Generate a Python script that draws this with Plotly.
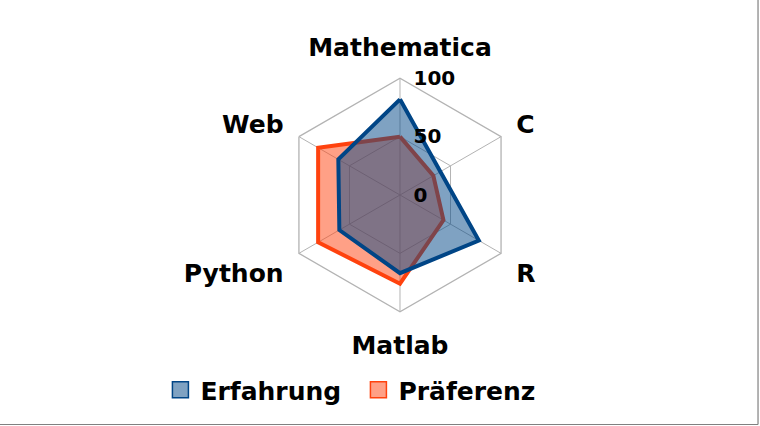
import plotly.graph_objects as go

categories = ["Mathematica", "C", "R", "Matlab", "Python", "Web"]
erfahrung = [82, 40, 78, 67, 60, 61]
praeferenz = [50, 33, 43, 76, 81, 81]
radial_ticks = [0, 50, 100]
series_names = ["Erfahrung", "Präferenz"]

BLUE = "#004586"
ORANGE = "#ff420e"
GRID = "#b3b3b3"
FONT = "DejaVu Sans"

def closed(vals):
    return list(vals) + [vals[0]]

fig = go.Figure()
# Präferenz drawn first so Erfahrung sits on top
fig.add_trace(go.Scatterpolar(
    r=closed(praeferenz), theta=closed(categories), fill="toself", mode="lines",
    line=dict(color=ORANGE, width=4), fillcolor="rgba(255,66,14,0.5)",
    showlegend=False, hoverinfo="skip"))
fig.add_trace(go.Scatterpolar(
    r=closed(erfahrung), theta=closed(categories), fill="toself", mode="lines",
    line=dict(color=BLUE, width=4), fillcolor="rgba(0,69,134,0.5)",
    showlegend=False, hoverinfo="skip"))
# legend entries
for name, fc, lc in [(series_names[0], "rgba(0,69,134,0.5)", BLUE),
                     (series_names[1], "rgba(255,66,14,0.5)", ORANGE)]:
    fig.add_trace(go.Scatterpolar(
        r=[None], theta=[categories[0]], mode="markers", name=name,
        marker=dict(symbol="square", size=18, color=fc, line=dict(color=lc, width=1.5))))

fig.update_layout(
    width=760, height=426,
    margin=dict(l=0, r=0, t=0, b=0),
    paper_bgcolor="white", plot_bgcolor="white",
    font=dict(family=FONT, color="black"),
    polar=dict(
        domain=dict(x=[0.2263, 0.8263], y=[0.2683, 0.8162]),
        gridshape="linear",
        bgcolor="white",
        radialaxis=dict(
            range=[0, 100], tickvals=radial_ticks, angle=90, tickangle=90,
            showline=False, gridcolor=GRID, gridwidth=1.3,
            ticks="outside", ticklen=9, tickcolor="rgba(0,0,0,0)",
            tickfont=dict(family=FONT, size=20, weight="bold", color="black"),
        ),
        angularaxis=dict(
            categoryorder="array", categoryarray=categories,
            rotation=90, direction="clockwise",
            showline=True, linecolor=GRID, linewidth=1.3,
            gridcolor=GRID, gridwidth=1.3,
            ticks="outside", ticklen=12, tickcolor="rgba(0,0,0,0)",
            tickfont=dict(family=FONT, size=25, weight="bold", color="black"),
        ),
    ),
    legend=dict(
        orientation="h", x=0.4716, xanchor="center", y=0.0845, yanchor="middle",
        entrywidth=153,
        font=dict(family=FONT, size=25, weight="bold", color="black"),
        bgcolor="rgba(0,0,0,0)",
    ),
    shapes=[
        dict(type="line", xref="paper", yref="paper", x0=0.9974, x1=0.9974, y0=0.0035, y1=1,
             line=dict(color="#808080", width=1.2)),
        dict(type="line", xref="paper", yref="paper", x0=0, x1=0.9974, y0=0.0035, y1=0.0035,
             line=dict(color="#808080", width=1.2)),
    ],
)

fig.write_html("out.html")
